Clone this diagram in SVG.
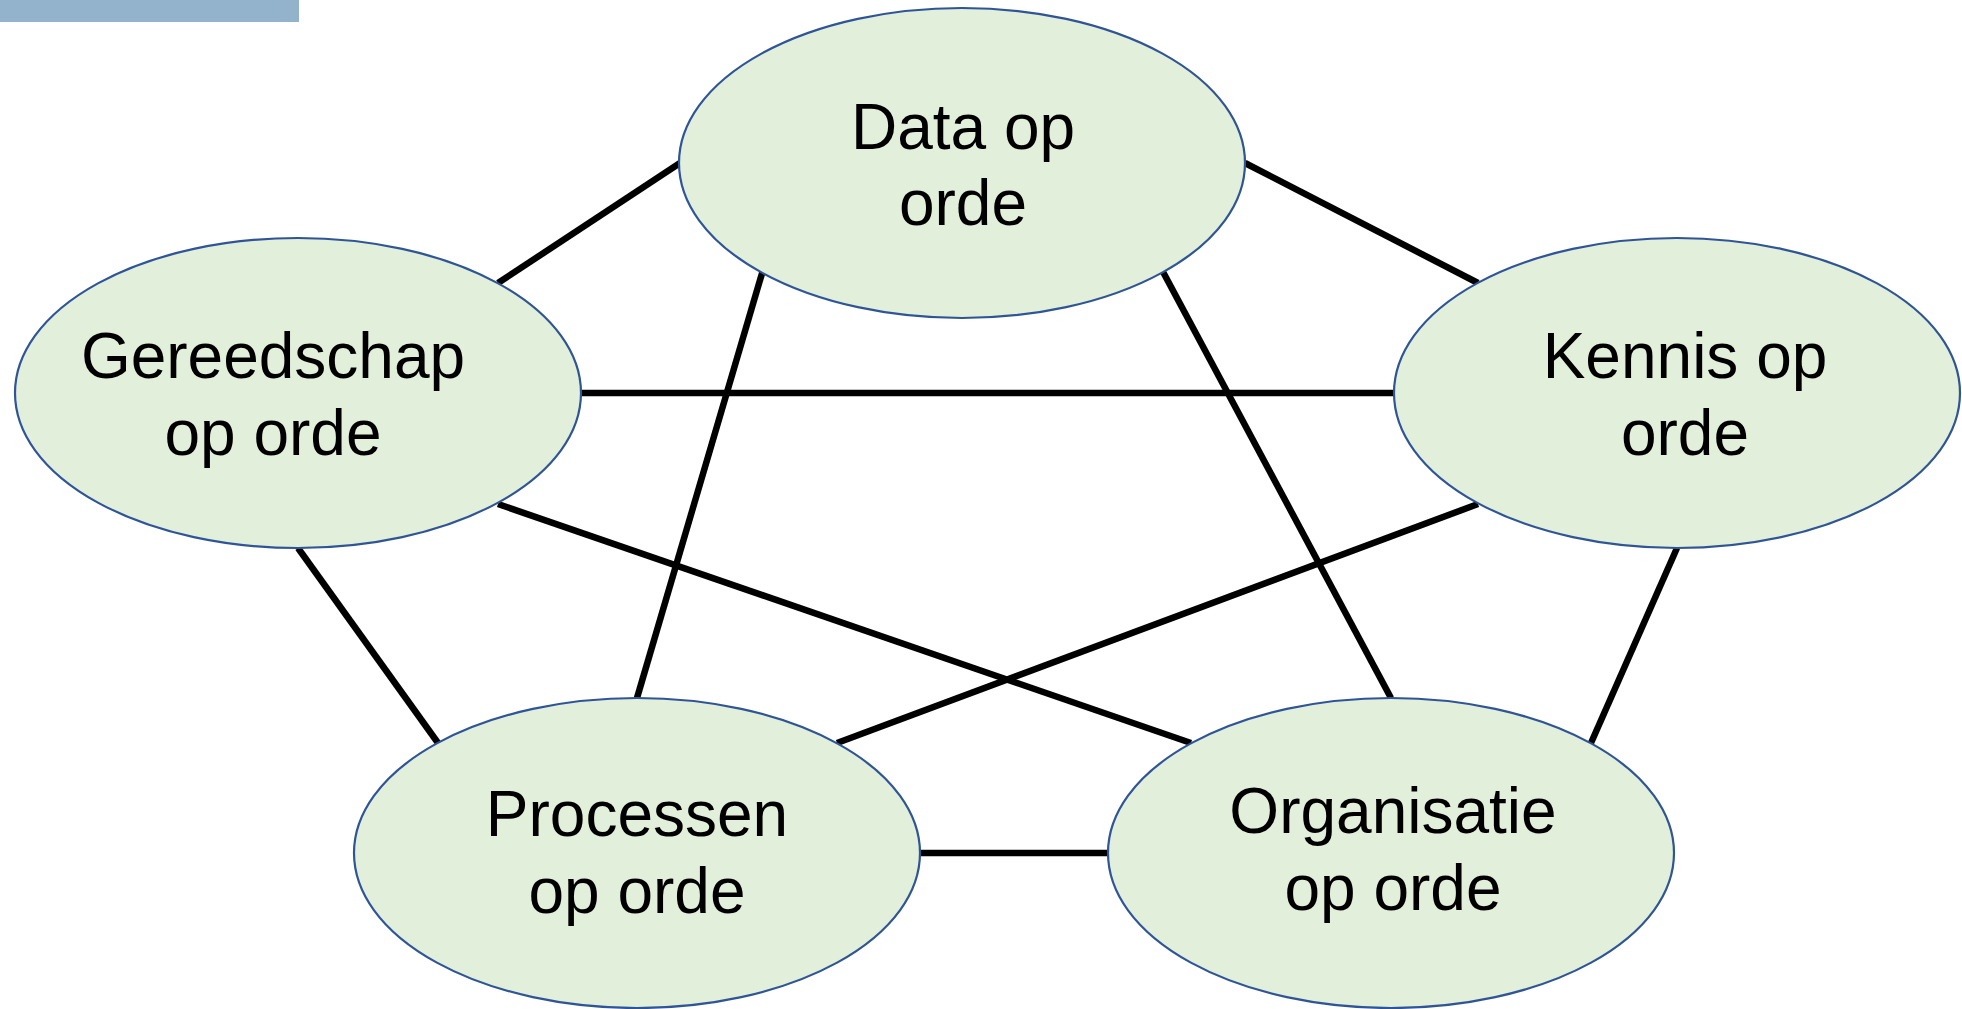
<svg xmlns="http://www.w3.org/2000/svg" width="1962" height="1009" viewBox="0 0 1962 1009">
<style>
.node ellipse{fill:#E2EFDA;stroke:#2F5597;stroke-width:2.2}
.node text{font-family:"Liberation Sans",Arial,sans-serif;font-size:64px;fill:#000;text-anchor:middle}
#connectors line{stroke:#000;stroke-width:6.5}
</style>
<rect x="0" y="0" width="299" height="22" fill="#93B3CD"/>
<g id="connectors">
<line x1="498" y1="283" x2="680" y2="163"/>
<line x1="1245" y1="163" x2="1478" y2="283"/>
<line x1="581" y1="393" x2="1394" y2="393"/>
<line x1="763" y1="270" x2="637" y2="698"/>
<line x1="1162" y1="270" x2="1391" y2="698"/>
<line x1="498" y1="504" x2="1191" y2="743"/>
<line x1="1478" y1="504" x2="837" y2="743"/>
<line x1="298" y1="548" x2="438" y2="743"/>
<line x1="1677" y1="548" x2="1591" y2="743"/>
<line x1="920" y1="853" x2="1108" y2="853"/>
</g>
<g id="node-data" class="node">
<ellipse cx="962" cy="163" rx="283" ry="155"/>
<text x="963" y="149">Data op</text>
<text x="963" y="225">orde</text>
</g>
<g id="node-gereedschap" class="node">
<ellipse cx="298" cy="393" rx="283" ry="155"/>
<text x="273" y="378">Gereedschap</text>
<text x="273" y="455">op orde</text>
</g>
<g id="node-kennis" class="node">
<ellipse cx="1677" cy="393" rx="283" ry="155"/>
<text x="1685" y="378">Kennis op</text>
<text x="1685" y="455">orde</text>
</g>
<g id="node-processen" class="node">
<ellipse cx="637" cy="853" rx="283" ry="155"/>
<text x="637" y="836">Processen</text>
<text x="637" y="913">op orde</text>
</g>
<g id="node-organisatie" class="node">
<ellipse cx="1391" cy="853" rx="283" ry="155"/>
<text x="1393" y="833">Organisatie</text>
<text x="1393" y="910">op orde</text>
</g>
</svg>
